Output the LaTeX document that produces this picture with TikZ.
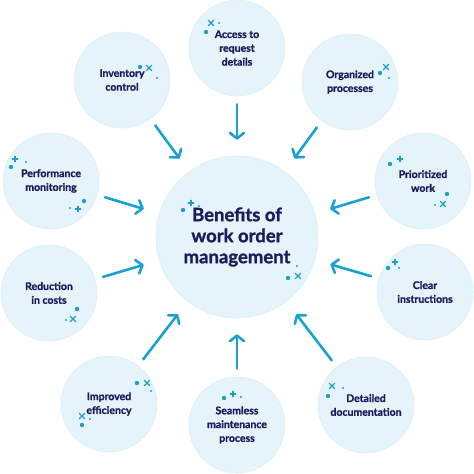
\documentclass[tikz,border=0pt]{standalone}
\usepackage{fontspec}
\setmainfont{Lato}[BoldFeatures={FakeBold=1.3}]
\usepackage{tikz}
\usetikzlibrary{calc,arrows.meta}
\definecolor{bubble}{HTML}{E5F4FA}
\definecolor{bubbleline}{HTML}{DCEEF6}
\definecolor{navy}{HTML}{1B1D5C}
\definecolor{arrowblue}{HTML}{1BA1D1}
\definecolor{sparkle}{HTML}{1E9FC8}
\tikzset{sat/.style={circle,draw=bubbleline,line width=0.6pt,fill=bubble,minimum size=96pt,inner sep=0pt,align=center,text=navy,font=\fontsize{10.5}{13.8}\selectfont\bfseries},
hub/.style={sat,minimum size=162pt,font=\fontsize{18.5}{21}\selectfont\bfseries},
arr/.style={-{Straight Barb[length=5.5pt,width=14pt,line cap=round,line join=round]},line width=2.6pt,draw=arrowblue,line cap=round,shorten <=8pt,shorten >=16pt},
spark/.style={draw=sparkle,line width=1.1pt,line cap=round}}
\newcommand*{\SparkSize}{2.8pt}

\begin{document}
\begin{tikzpicture}[x=1pt,y=-1pt]
\useasboundingbox (0,0) rectangle (474,474);

\node[hub] (hub) at (237,237) {Benefits of\\work order\\management};

\node[sat] (s1) at (237,48) {Access to\\request\\details};
\node[sat] (s2) at (350,82) {Organized\\processes};
\node[sat] (s3) at (423,181) {Prioritized\\work};
\node[sat] (s4) at (425,292) {Clear\\instructions};
\node[sat] (s5) at (366,405) {Detailed\\documentation};
\node[sat] (s6) at (237,425) {Seamless\\maintenance\\process};
\node[sat] (s7) at (109,404) {Improved\\efficiency};
\node[sat] (s8) at (49,293) {Reduction\\in costs};
\node[sat] (s9) at (51,181) {Performance\\monitoring};
\node[sat] (s10) at (122,80) {Inventory\\control};

\foreach \s in {1,...,10} {%
    \draw[arr] (s\s) -- (hub);
}

% sparkles: big dots, small dots, plus and cross marks
\foreach \x/\y in {183/210,288/278,206/32,380/73,390/164,447/194,388/268,328/396,224/398,82/425,137/383,77/309,11/167,84/201,140/67} {%
    \fill[sparkle] (\x,\y) circle (2.2pt);
}
\foreach \x/\y in {199/206,297/266,219/23,389/78,435/205,399/268,343/388,241/397,90/419,151/391,66/320,26/162,70/208,157/78} {%
    \fill[sparkle] (\x,\y) circle (1.2pt);
}
\foreach \x/\y in {191/203,400/159,395/262,233/394,15/159,78/209} {%
    \draw[spark] ($(\x,\y) + (-\SparkSize,0)$) -- ($(\x,\y) + (\SparkSize,0)$)
        ($(\x,\y) + (0,-\SparkSize)$) -- ($(\x,\y) + (0,\SparkSize)$);
}
\foreach \x/\y in {298/276,211/23,386/67,443/204,332/386,82/416,147/383,73/319,149/68} {%
    \draw[spark] ($(\x,\y) + (-\SparkSize,-\SparkSize)$) -- ($(\x,\y) + (\SparkSize,\SparkSize)$)
        ($(\x,\y) + (-\SparkSize,\SparkSize)$) -- ($(\x,\y) + (\SparkSize,-\SparkSize)$);
}

\end{tikzpicture}
\end{document}
